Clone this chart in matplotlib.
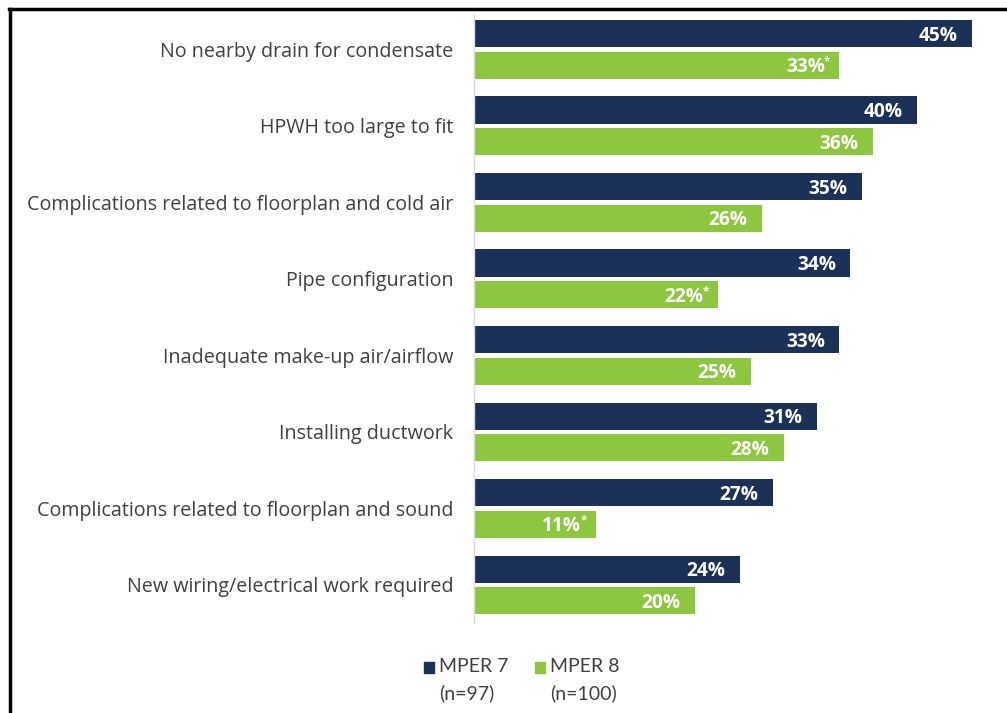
import matplotlib
matplotlib.use('Agg')
import matplotlib.pyplot as plt
from matplotlib.lines import Line2D
from matplotlib.patches import Rectangle
import numpy as np

categories = ['No nearby drain for condensate', 'HPWH too large to fit',
              'Complications related to floorplan and cold air', 'Pipe configuration',
              'Inadequate make-up air/airflow', 'Installing ductwork',
              'Complications related to floorplan and sound',
              'New wiring/electrical work required']
mper7 = [45, 40, 35, 34, 33, 31, 27, 24]
mper8 = [33, 36, 26, 22, 25, 28, 11, 20]
mper8_sig = [True, False, False, True, False, False, True, False]
series_names = ['MPER 7', 'MPER 8']
series_n = ['(n=97)', '(n=100)']

navy = '#1c3157'
green = '#8dc63f'
text_gray = '#404040'

plt.rcParams['font.family'] = ['Open Sans', 'DejaVu Sans']

fig = plt.figure(figsize=(10.07, 7.13), dpi=100)
ax = fig.add_axes([0.4707, 0.1262, 0.5223, 0.853])

y = np.arange(len(categories))
h = 0.353
off = 0.206
ax.barh(y - off, mper7, height=h, color=navy)
ax.barh(y + off, mper8, height=h, color=green)

for yi, v in zip(y, mper7):
    ax.annotate(f'{v}%', xy=(v, yi - off), xytext=(-10.5, -1.5), textcoords='offset points',
                ha='right', va='center', color='white', fontsize=13.8, fontweight='bold')
for yi, v, sig in zip(y, mper8, mper8_sig):
    ax.annotate(f'{v}%', xy=(v, yi + off), xytext=(-10.5, -1.5), textcoords='offset points',
                ha='right', va='center', color='white', fontsize=13.8, fontweight='bold')
    if sig:
        # significance marker, raised next to the percentage
        ax.annotate('*', xy=(v, yi + off), xytext=(-11, 2), textcoords='offset points',
                    ha='left', va='center', color='white', fontsize=8.5, fontweight='bold')

ax.set_xlim(0, 47.5)
ax.set_ylim(7.5, -0.45)
ax.set_xticks([])
ax.set_yticks(y)
ax.set_yticklabels(categories, fontsize=14.2, color=text_gray)
ax.tick_params(axis='y', length=0, pad=15)
for side in ['top', 'right', 'bottom']:
    ax.spines[side].set_visible(False)
ax.spines['left'].set_color('#d9d9d9')
ax.spines['left'].set_linewidth(1)

# legend drawn by hand so the swatch sits on the first line
for x0, color, name, n in [(0.4215, navy, series_names[0], series_n[0]),
                           (0.531, green, series_names[1], series_n[1])]:
    fig.add_artist(Rectangle((x0, 1 - 673 / 713), 10 / 1007, 11 / 713,
                             transform=fig.transFigure, color=color))
    fig.text(x0 + 15 / 1007, 1 - 667 / 713, name, fontsize=14, color=text_gray,
             ha='left', va='center', family=['Lato', 'DejaVu Sans'])
    fig.text(x0 + 15 / 1007, 1 - 693 / 713, n, fontsize=14, color=text_gray,
             ha='left', va='center', family=['Lato', 'DejaVu Sans'])

# frame lines at the top and left
fig.add_artist(Line2D([9 / 1007, 1], [1 - 9 / 713, 1 - 9 / 713], color='black', lw=2.5,
                      transform=fig.transFigure))
fig.add_artist(Line2D([10 / 1007, 10 / 1007], [0, 1 - 9 / 713], color='black', lw=2.5,
                      transform=fig.transFigure))

fig.savefig('out.png', dpi=100)
